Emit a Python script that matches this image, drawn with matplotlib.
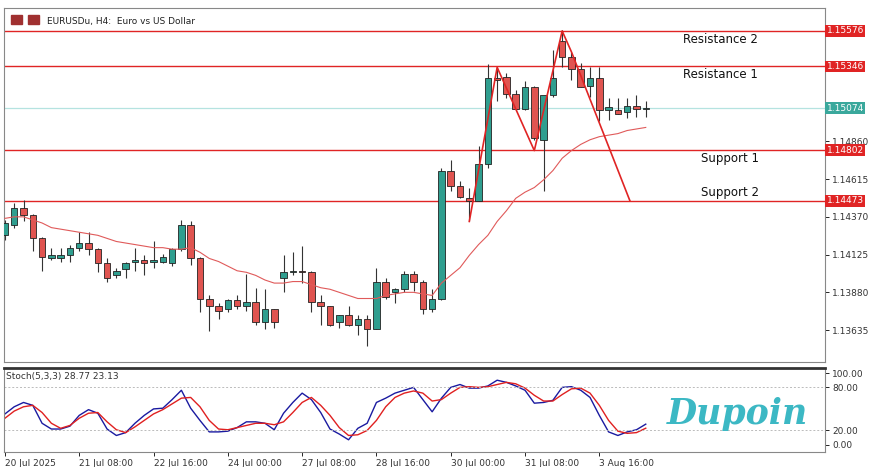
import matplotlib.pyplot as plt
import numpy as np

opens = [1.1425, 1.1432, 1.1443, 1.1438, 1.1423, 1.1410, 1.1410, 1.1412, 1.1417, 1.1420,
         1.1416, 1.1407, 1.1399, 1.1403, 1.1408, 1.1409, 1.1408, 1.1408, 1.1407, 1.1416,
         1.1432, 1.1410, 1.1384, 1.1379, 1.1377, 1.1383, 1.1379, 1.1382, 1.1369, 1.1377,
         1.1397, 1.1401, 1.1402, 1.1401, 1.1382, 1.1379, 1.1369, 1.1373, 1.1367, 1.1371,
         1.1364, 1.1395, 1.1388, 1.1390, 1.1400, 1.1395, 1.1377, 1.1384, 1.1467, 1.1457,
         1.1449, 1.1447, 1.1471, 1.1527, 1.1528, 1.1517, 1.1507, 1.1521, 1.1487, 1.1516,
         1.1551, 1.1541, 1.1533, 1.1522, 1.1527, 1.1506, 1.1506, 1.1505, 1.1509, 1.1507]
highs = [1.1435, 1.1446, 1.1448, 1.1439, 1.1424, 1.1417, 1.1417, 1.1419, 1.1427, 1.1427,
         1.1417, 1.1410, 1.1404, 1.1408, 1.1417, 1.1412, 1.1421, 1.1413, 1.1417, 1.1435,
         1.1434, 1.1411, 1.1386, 1.1381, 1.1384, 1.1386, 1.1400, 1.1391, 1.1390, 1.1377,
         1.1412, 1.1414, 1.1418, 1.1402, 1.1386, 1.1379, 1.1373, 1.1379, 1.1373, 1.1373,
         1.1404, 1.1397, 1.1391, 1.1402, 1.1402, 1.1396, 1.1390, 1.1469, 1.1474, 1.1460,
         1.1456, 1.1483, 1.1536, 1.1534, 1.1530, 1.1519, 1.1525, 1.1522, 1.1513, 1.1545,
         1.1558, 1.1544, 1.1537, 1.1534, 1.1534, 1.1514, 1.1514, 1.1514, 1.1516, 1.1512]
lows = [1.1422, 1.1430, 1.1434, 1.1415, 1.1402, 1.1409, 1.1408, 1.1408, 1.1415, 1.1412,
        1.1401, 1.1395, 1.1397, 1.1397, 1.1402, 1.1399, 1.1404, 1.1407, 1.1405, 1.1415,
        1.1406, 1.1375, 1.1363, 1.1371, 1.1375, 1.1377, 1.1376, 1.1367, 1.1364, 1.1365,
        1.1388, 1.1399, 1.1394, 1.1375, 1.1367, 1.1366, 1.1365, 1.1366, 1.1360, 1.1353,
        1.1364, 1.1384, 1.1381, 1.1388, 1.1389, 1.1374, 1.1375, 1.1383, 1.1454, 1.1449,
        1.1434, 1.1447, 1.1469, 1.1512, 1.1514, 1.1506, 1.1506, 1.1487, 1.1454, 1.1515,
        1.1534, 1.1526, 1.1521, 1.1515, 1.1499, 1.1500, 1.1504, 1.1501, 1.1502, 1.1502]
closes = [1.1433, 1.1443, 1.1438, 1.1423, 1.1411, 1.1412, 1.1412, 1.1417, 1.1420, 1.1416,
          1.1407, 1.1397, 1.1402, 1.1407, 1.1409, 1.1407, 1.1409, 1.1411, 1.1416, 1.1432,
          1.1410, 1.1384, 1.1379, 1.1376, 1.1383, 1.1379, 1.1382, 1.1369, 1.1377, 1.1369,
          1.1401, 1.1402, 1.1401, 1.1382, 1.1379, 1.1367, 1.1373, 1.1367, 1.1371, 1.1364,
          1.1395, 1.1385, 1.1390, 1.1400, 1.1395, 1.1377, 1.1384, 1.1467, 1.1457, 1.1450,
          1.1447, 1.1471, 1.1527, 1.1526, 1.1517, 1.1507, 1.1521, 1.1488, 1.1516, 1.1527,
          1.1541, 1.1533, 1.1521, 1.1527, 1.1506, 1.1508, 1.1504, 1.1509, 1.1507, 1.1507]

ma = [1.1436, 1.1437, 1.1437, 1.1435, 1.1433, 1.1430, 1.1429, 1.1428, 1.1427, 1.1426,
      1.1425, 1.1423, 1.1421, 1.1420, 1.1419, 1.1418, 1.1417, 1.1417, 1.1416, 1.1416,
      1.1417, 1.1414, 1.1410, 1.1408, 1.1405, 1.1402, 1.1401, 1.1399, 1.1396, 1.1394,
      1.1394, 1.1395, 1.1395, 1.1393, 1.1391, 1.1390, 1.1388, 1.1386, 1.1384, 1.1384,
      1.1384, 1.1386, 1.1387, 1.1388, 1.1388, 1.1387, 1.1386, 1.1394, 1.1399, 1.1404,
      1.1412, 1.1419, 1.1425, 1.1434, 1.1441, 1.1449, 1.1453, 1.1456, 1.1461, 1.1467,
      1.1475, 1.1480, 1.1484, 1.1487, 1.1489, 1.1490, 1.1491, 1.1493, 1.1494, 1.1495]

stoch_k = [43, 53, 59, 55, 30, 22, 22, 26, 41, 49, 44, 22, 13, 17, 30, 41, 50, 51, 63, 76,
           51, 34, 18, 18, 19, 24, 32, 32, 30, 21, 44, 59, 72, 63, 45, 22, 15, 7, 23, 30,
           59, 65, 72, 76, 80, 63, 46, 65, 80, 84, 79, 79, 82, 90, 87, 82, 76, 58, 59, 62,
           80, 81, 76, 66, 41, 18, 13, 18, 21, 28.77]
stoch_d = [37, 47, 53, 55, 45, 30, 23, 27, 37, 44, 45, 32, 21, 17, 25, 34, 43, 49, 57, 65,
           66, 53, 34, 22, 21, 24, 27, 30, 30, 28, 32, 45, 59, 66, 55, 41, 24, 13, 14, 20,
           34, 53, 66, 72, 75, 72, 61, 63, 72, 80, 81, 80, 81, 84, 87, 85, 79, 69, 61, 61,
           70, 78, 79, 72, 55, 34, 19, 16, 17, 23.13]

zig_x = [50, 53, 57, 60, 61, 67.3]
zig_y = [1.1434, 1.1534, 1.1480, 1.15576, 1.1544, 1.14473]

levels = [1.15576, 1.15346, 1.14802, 1.14473]
level_names = ["Resistance 2", "Resistance 1", "Support 1", "Support 2"]
last_price = 1.15074
price_ticks = [1.14860, 1.14615, 1.14370, 1.14125, 1.13880, 1.13635]
date_labels = ["20 Jul 2025", "21 Jul 08:00", "22 Jul 16:00", "24 Jul 00:00", "27 Jul 08:00",
               "28 Jul 16:00", "30 Jul 00:00", "31 Jul 08:00", "3 Aug 16:00"]

up_col = "#2f9e8f"
down_col = "#e05450"
lvl_col = "#e02424"

fig = plt.figure(figsize=(8.69, 4.67), dpi=100)
W, H = 869, 467
ax = fig.add_axes([4 / W, 1 - 362 / H, 821 / W, 354 / H])
ax2 = fig.add_axes([4 / W, 1 - 452 / H, 821 / W, 84 / H])

n = len(opens)
xs = np.arange(n)
for i in range(n):
    o, h, l, c = opens[i], highs[i], lows[i], closes[i]
    col = up_col if c >= o else down_col
    ax.vlines(i, l, h, color="#333333", lw=0.8, zorder=2)
    bottom = min(o, c)
    height = max(abs(c - o), 0.00003)
    ax.bar(i, height, bottom=bottom, width=0.7, color=col, edgecolor="#222222", lw=0.6, zorder=3)

ax.plot(xs, ma, color="#e05a5a", lw=0.8, zorder=4)
ax.plot(zig_x, zig_y, color=lvl_col, lw=1.2, zorder=5)

for lv in levels:
    ax.axhline(lv, color=lvl_col, lw=1.0, zorder=1)
ax.axhline(last_price, color="#b5e3e0", lw=0.9, zorder=1)

# label placement: first three sit under their line, the last one above it
name_x = [73.0, 73.0, 75.0, 75.0]
name_above = [False, False, False, True]
for lv, nm, nx, above in zip(levels, level_names, name_x, name_above):
    if above:
        ax.text(nx, lv + 0.00012, nm, fontsize=8.5, va="bottom", ha="left", color="#111111")
    else:
        ax.text(nx, lv - 0.00012, nm, fontsize=8.5, va="top", ha="left", color="#111111")

ax.set_xlim(-0.1, 88.3)
ax.set_ylim(1.13428, 1.15725)
ax.yaxis.tick_right()
ax.set_yticks(price_ticks)
ax.set_yticklabels([f"{t:.5f}" for t in price_ticks], fontsize=6.5, color="#333333")
ax.tick_params(axis="y", length=3, pad=2, width=0.6)
ax.set_xticks([])
for s in ["top", "left", "right", "bottom"]:
    ax.spines[s].set_color("#888888")
    ax.spines[s].set_linewidth(0.8)

for lv in levels:
    ax.text(1.002, lv, f"{lv:.5f}", transform=ax.get_yaxis_transform(), fontsize=6.5,
            color="white", va="center", ha="left",
            bbox=dict(boxstyle="square,pad=0.15", fc=lvl_col, ec="none"))
ax.text(1.002, last_price, f"{last_price:.5f}", transform=ax.get_yaxis_transform(), fontsize=6.5,
        color="white", va="center", ha="left",
        bbox=dict(boxstyle="square,pad=0.15", fc="#3aa89c", ec="none"))

ax.text(0.052, 0.975, "EURUSDu, H4:  Euro vs US Dollar", transform=ax.transAxes,
        fontsize=6.5, va="top", ha="left", color="#222222")
ax.add_patch(plt.Rectangle((0.008, 0.955), 0.014, 0.025, transform=ax.transAxes, color="#a03030"))
ax.add_patch(plt.Rectangle((0.029, 0.955), 0.014, 0.025, transform=ax.transAxes, color="#a03030"))

ax2.plot(xs, stoch_k, color="#1a1aa0", lw=1.0)
ax2.plot(xs, stoch_d, color="#e02020", lw=1.0)
ax2.axhline(80, color="#bbbbbb", lw=0.7, ls=(0, (2, 2)))
ax2.axhline(20, color="#bbbbbb", lw=0.7, ls=(0, (2, 2)))
ax2.set_xlim(-0.1, 88.3)
ax2.set_ylim(-10, 107)
ax2.yaxis.tick_right()
ax2.set_yticks([100, 80, 20, 0])
ax2.set_yticklabels(["100.00", "80.00", "20.00", "0.00"], fontsize=6.5, color="#333333")
ax2.tick_params(axis="y", length=3, pad=2, width=0.6)
ax2.set_xticks(np.arange(0, n, 8))
ax2.set_xticklabels(date_labels, fontsize=6.5, ha="left", color="#333333")
ax2.tick_params(axis="x", length=3, pad=2, width=0.6)
for s in ["left", "right", "bottom"]:
    ax2.spines[s].set_color("#888888")
    ax2.spines[s].set_linewidth(0.8)
ax2.spines["top"].set_color("#333333")
ax2.spines["top"].set_linewidth(2)
ax2.text(0.003, 0.95, "Stoch(5,3,3) 28.77 23.13", transform=ax2.transAxes, fontsize=6.5,
         va="top", ha="left", color="#333333")
ax2.text(0.893, 0.45, "Dupoin", transform=ax2.transAxes, fontsize=25, fontstyle="italic",
         fontweight="bold", color="#3cb8c4", ha="center", va="center", family="DejaVu Serif")

fig.savefig("out.png", dpi=100)
